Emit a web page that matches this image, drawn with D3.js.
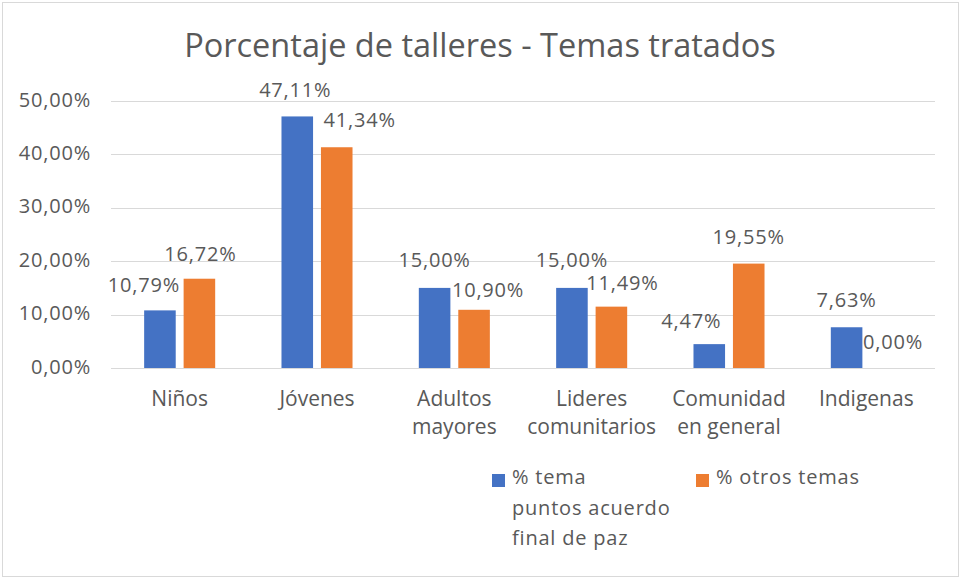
<!DOCTYPE html>
<html>
<head>
<meta charset="utf-8">
<script src="https://cdn.jsdelivr.net/npm/d3@7"></script>
<style>
  body { margin: 0; background: #fff; }
  text { font-family: "Open Sans", sans-serif; fill: #595959; }
</style>
</head>
<body>
<div id="chart"></div>
<script>
// data
const categories = ["Niños", "Jóvenes", "Adultos mayores", "Lideres comunitarios", "Comunidad en general", "Indigenas"];
const categoryLines = [["Niños"], ["Jóvenes"], ["Adultos", "mayores"], ["Lideres", "comunitarios"], ["Comunidad", "en general"], ["Indigenas"]];
const temaPaz = [0.1079, 0.4711, 0.15, 0.15, 0.0447, 0.0763];
const otrosTemas = [0.1672, 0.4134, 0.109, 0.1149, 0.1955, 0];
const yTicks = [0, 0.1, 0.2, 0.3, 0.4, 0.5];
const seriesNames = ["% tema puntos acuerdo final de paz", "% otros temas"];
const legendLines = [["% tema", "puntos acuerdo", "final de paz"], ["% otros temas"]];
const colors = ["#4472C4", "#ED7D31"];

// label nudges (Excel moves some labels so they don't collide)
const nudgeTema = [[-16, 1], [-2, 0], [0, -2], [0, -2], [-18, 3], [0, -1]];
const nudgeOtros = [[1, 1], [23, -1], [14, 6], [11, 2], [0, -1], [7, 0]];

const width = 960, height = 578;
const plot = { left: 111, right: 935, top: 101, bottom: 368 };

const locale = d3.formatLocale({ decimal: ",", thousands: ".", grouping: [3], currency: ["", "€"] });
const pct = locale.format(".2%");

const svg = d3.select("#chart").append("svg")
  .attr("width", width)
  .attr("height", height);

svg.append("rect")
  .attr("x", 2.5).attr("y", 2.5)
  .attr("width", 956).attr("height", 574)
  .attr("fill", "#fff")
  .attr("stroke", "#d9d9d9");

svg.append("text")
  .attr("x", 480).attr("y", 57)
  .attr("text-anchor", "middle")
  .style("font-size", "32.5px")
  .text("Porcentaje de talleres - Temas tratados");

const x = d3.scaleBand().domain(categories).range([plot.left, plot.right]);
const xs = d3.scaleBand().domain([0, 1]).range([0, x.bandwidth()]).paddingInner(0.2).paddingOuter(0.84);
const y = d3.scaleLinear().domain([0, 0.5]).range([plot.bottom, plot.top]);

// gridlines
svg.append("g")
  .selectAll("line")
  .data(yTicks)
  .join("line")
  .attr("x1", plot.left).attr("x2", plot.right)
  .attr("y1", d => Math.round(y(d)) + 0.5)
  .attr("y2", d => Math.round(y(d)) + 0.5)
  .attr("stroke", "#d9d9d9");

// y axis labels
const yAxis = svg.append("g")
  .attr("transform", `translate(${plot.left},0)`)
  .call(d3.axisLeft(y).tickValues(yTicks).tickFormat(pct).tickSize(0).tickPadding(20));
yAxis.select(".domain").remove();
yAxis.selectAll("text")
  .attr("dy", null)
  .attr("y", 5)
  .style("font-size", "20px")
  .style("letter-spacing", "0.8px")
  .style("font-family", "'Open Sans', sans-serif")
  .attr("fill", "#595959");

// bars
const series = [temaPaz, otrosTemas];
const nudges = [nudgeTema, nudgeOtros];

series.forEach((vals, s) => {
  const g = svg.append("g");
  g.selectAll("rect")
    .data(vals)
    .join("rect")
    .attr("x", (d, i) => x(categories[i]) + xs(s))
    .attr("y", d => y(d))
    .attr("width", xs.bandwidth())
    .attr("height", d => y(0) - y(d))
    .attr("fill", colors[s]);

  g.selectAll("text")
    .data(vals)
    .join("text")
    .attr("x", (d, i) => x(categories[i]) + xs(s) + xs.bandwidth() / 2 + nudges[s][i][0])
    .attr("y", (d, i) => y(d) - 19 + nudges[s][i][1])
    .attr("text-anchor", "middle")
    .style("font-size", "20px")
    .style("letter-spacing", "0.8px")
    .text(d => pct(d));
});

// category labels
svg.append("g")
  .selectAll("text")
  .data(categories)
  .join("text")
  .attr("x", d => x(d) + x.bandwidth() / 2)
  .attr("y", 406)
  .attr("text-anchor", "middle")
  .style("font-size", "21px")
  .each(function (d, i) {
    d3.select(this).selectAll("tspan")
      .data(categoryLines[i])
      .join("tspan")
      .attr("x", x(d) + x.bandwidth() / 2)
      .attr("dy", (t, j) => j === 0 ? 0 : 28)
      .text(t => t);
  });

// legend
const legendX = [492, 696];
const legend = svg.append("g");
seriesNames.forEach((name, s) => {
  legend.append("rect")
    .attr("x", legendX[s]).attr("y", 474)
    .attr("width", 13).attr("height", 13)
    .attr("fill", colors[s]);
  legend.append("text")
    .attr("x", legendX[s] + 20).attr("y", 484)
    .style("font-size", "20px")
    .style("letter-spacing", "0.8px")
    .selectAll("tspan")
    .data(legendLines[s])
    .join("tspan")
    .attr("x", legendX[s] + 20)
    .attr("dy", (t, j) => j === 0 ? 0 : 30.5)
    .text(t => t);
});
</script>
</body>
</html>
